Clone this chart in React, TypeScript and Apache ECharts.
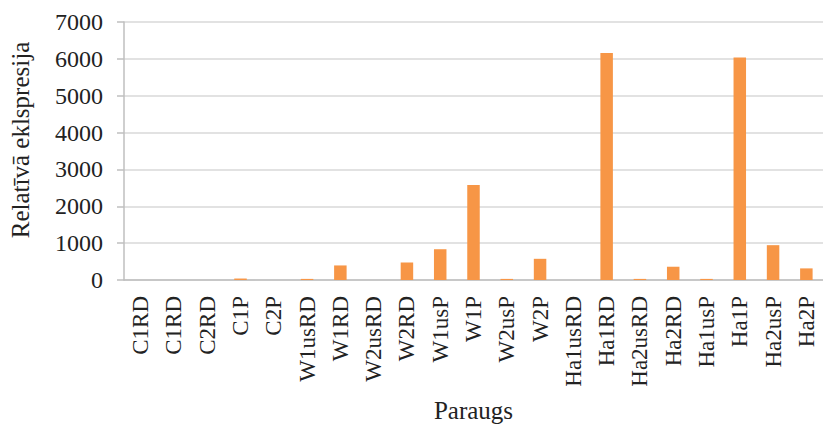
import React, { useEffect, useRef } from "react";
import * as echarts from "echarts";

const categories = [
  "C1RD", "C1RD", "C2RD", "C1P", "C2P", "W1usRD", "W1RD", "W2usRD", "W2RD", "W1usP", "W1P",
  "W2usP", "W2P", "Ha1usRD", "Ha1RD", "Ha2usRD", "Ha2RD", "Ha1usP", "Ha1P", "Ha2usP", "Ha2P",
];
const values = [
  0, 0, 0, 40, 0, 30, 395, 0, 475, 835, 2575,
  30, 575, 0, 6160, 30, 360, 30, 6040, 945, 315,
];
const yTicks = [0, 1000, 2000, 3000, 4000, 5000, 6000, 7000];

const FONT = "'Liberation Serif', 'Times New Roman', serif";

export default function App() {
  const ref = useRef<HTMLDivElement>(null);
  useEffect(() => {
    if (!ref.current) return;
    const chart = echarts.init(ref.current, null, { renderer: "svg" });
    chart.setOption({
      animation: false,
      backgroundColor: "#ffffff",
      grid: { left: 112, top: 22, width: 713, height: 258, containLabel: false },
      xAxis: {
        type: "category",
        data: categories,
        name: "Paraugs",
        nameLocation: "middle",
        nameGap: 118,
        nameTextStyle: { fontFamily: FONT, fontSize: 25, color: "#222222" },
        axisLine: { show: true, lineStyle: { color: "#bfbfbf", width: 1.5 } },
        axisTick: { show: false },
        axisLabel: {
          rotate: 90,
          interval: 0,
          margin: 16,
          fontFamily: FONT,
          fontSize: 23,
          color: "#222222",
        },
      },
      yAxis: {
        type: "value",
        min: yTicks[0],
        max: yTicks[yTicks.length - 1],
        interval: 1000,
        name: "Relatīvā eklspresija",
        nameLocation: "middle",
        nameGap: 91,
        nameTextStyle: { fontFamily: FONT, fontSize: 25, color: "#222222", padding: [0, 0, 0, 22] },
        axisLine: { show: true, lineStyle: { color: "#bfbfbf", width: 1.5 } },
        axisTick: { show: true, length: 7, lineStyle: { color: "#bfbfbf", width: 1.5 } },
        splitLine: { show: true, lineStyle: { color: "#d9d9d9", width: 1.5 } },
        axisLabel: {
          margin: 21,
          fontFamily: FONT,
          fontSize: 24,
          color: "#222222",
          formatter: (v: number) => String(v),
        },
      },
      series: [
        {
          type: "bar",
          data: values,
          barWidth: 12.5,
          itemStyle: { color: "#f79646" },
        },
      ],
    });
    return () => chart.dispose();
  }, []);
  return (
    <div
      ref={ref}
      style={{ position: "absolute", left: 0, top: 0, width: 823, height: 428 }}
    />
  );
}
